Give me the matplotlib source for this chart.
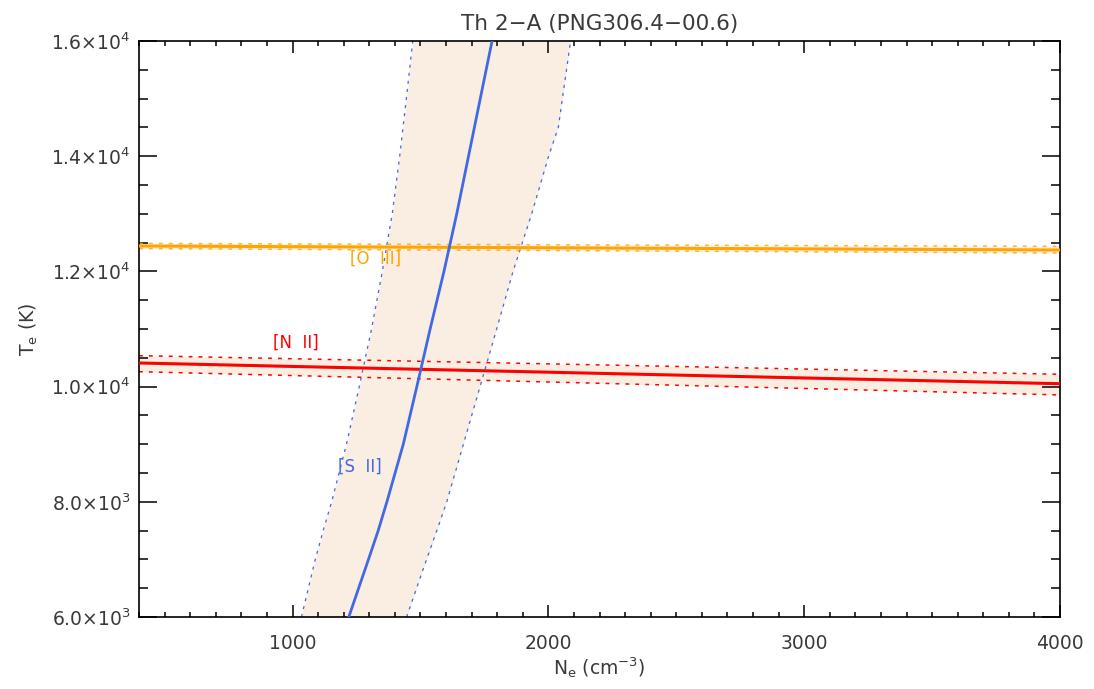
import numpy as np
import matplotlib
matplotlib.use("Agg")
import matplotlib.pyplot as plt
from matplotlib.ticker import FixedLocator, MultipleLocator

# [S II] : density as a function of temperature
s2_te = [6000, 7000, 7500, 8000, 9000, 10000, 11000, 12000, 13000, 14000, 14500, 15000, 16000]
s2_ne = [1220, 1297, 1335, 1369, 1433, 1486, 1538, 1592, 1642, 1688, 1711, 1734, 1780]
s2_ne_lo = [1035, 1089, 1120, 1153, 1211, 1261, 1309, 1351, 1390, 1419, 1432, 1445, 1470]
s2_ne_hi = [1446, 1524, 1564, 1603, 1668, 1733, 1798, 1862, 1935, 2001, 2039, 2055, 2087]

# [N II] : temperature as a function of density
n2_ne = [400, 2000, 4000]
n2_te = [10410, 10250, 10050]
n2_te_hi = [10537, 10395, 10214]
n2_te_lo = [10259, 10080, 9855]

# [O III]
o3_ne = [400, 2000, 4000]
o3_te = [12441, 12410, 12372]
o3_te_hi = [12486, 12462, 12436]
o3_te_lo = [12396, 12362, 12320]

ytick_vals = [6000, 8000, 10000, 12000, 14000, 16000]
ytick_labels = [r'6.0$\times$10$^3$', r'8.0$\times$10$^3$', r'1.0$\times$10$^4$',
                r'1.2$\times$10$^4$', r'1.4$\times$10$^4$', r'1.6$\times$10$^4$']
xtick_vals = [1000, 2000, 3000, 4000]

band = '#faeee3'
blue = '#4169e1'
red = '#ff0000'
orange = '#ffa500'
txt = '#3a3a3a'

plt.rcParams['font.family'] = ['DejaVu Sans']
plt.rcParams['mathtext.default'] = 'regular'

fig = plt.figure(figsize=(10.94, 6.89), dpi=100)
ax = fig.add_axes([139/1094, 1-617/689, (1060-139)/1094, (617-41)/689])

# shaded bands
ax.fill_betweenx(s2_te, s2_ne_lo, s2_ne_hi, color=band, lw=0, zorder=1)
ax.fill_between(n2_ne, n2_te_lo, n2_te_hi, color=band, lw=0, zorder=1)
ax.fill_between(o3_ne, o3_te_lo, o3_te_hi, color=band, lw=0, zorder=1)

# error limits
dash = (0, (2.5, 4))
ax.plot(s2_ne_lo, s2_te, color=blue, lw=0.9, ls=dash, zorder=2)
ax.plot(s2_ne_hi, s2_te, color=blue, lw=0.9, ls=dash, zorder=2)
ax.plot(n2_ne, n2_te_hi, color=red, lw=1.1, ls=dash, zorder=2)
ax.plot(n2_ne, n2_te_lo, color=red, lw=1.1, ls=dash, zorder=2)
ax.plot(o3_ne, o3_te_hi, color=orange, lw=1.1, ls=dash, alpha=0.8, zorder=2)
ax.plot(o3_ne, o3_te_lo, color=orange, lw=1.1, ls=dash, alpha=0.8, zorder=2)

# diagnostic curves
ax.plot(o3_ne, o3_te, color=orange, lw=2.2, zorder=3)
ax.plot(n2_ne, n2_te, color=red, lw=2.2, zorder=3)
ax.plot(s2_ne, s2_te, color=blue, lw=2.0, zorder=4)

ax.text(1014, 10757, '[N  II]', color=red, fontsize=12, ha='center', va='center', zorder=5)
ax.text(1323, 12215, '[O  III]', color=orange, fontsize=12, ha='center', va='center', zorder=5)
ax.text(1264, 8605, '[S  II]', color=blue, fontsize=12, ha='center', va='center', zorder=5)

ax.set_xlim(400, 4000)
ax.set_ylim(6000, 16000)
ax.xaxis.set_major_locator(FixedLocator(xtick_vals))
ax.xaxis.set_minor_locator(MultipleLocator(100))
ax.yaxis.set_major_locator(FixedLocator(ytick_vals))
ax.yaxis.set_minor_locator(MultipleLocator(500))
ax.set_yticklabels(ytick_labels)

ax.tick_params(which='both', direction='in', top=True, right=True, width=1.1,
               colors='black', labelcolor=txt, labelsize=13.5)
ax.tick_params(axis='x', which='major', length=8.5, pad=12)
ax.tick_params(axis='x', which='minor', length=3.6)
ax.tick_params(axis='y', which='major', length=13, pad=6)
ax.tick_params(axis='y', which='minor', length=6.5)
for s in ax.spines.values():
    s.set_linewidth(1.2)

ax.set_xlabel(r'N$_e$ (cm$^{-3}$)', fontsize=13.5, color=txt, labelpad=2)
ax.set_ylabel(r'T$_e$ (K)', fontsize=13.5, color=txt, labelpad=8)
ax.set_title('Th 2\u2212A (PNG306.4\u221200.6)', fontsize=15.5, color=txt, pad=8)

fig.savefig('out.png', dpi=100)
